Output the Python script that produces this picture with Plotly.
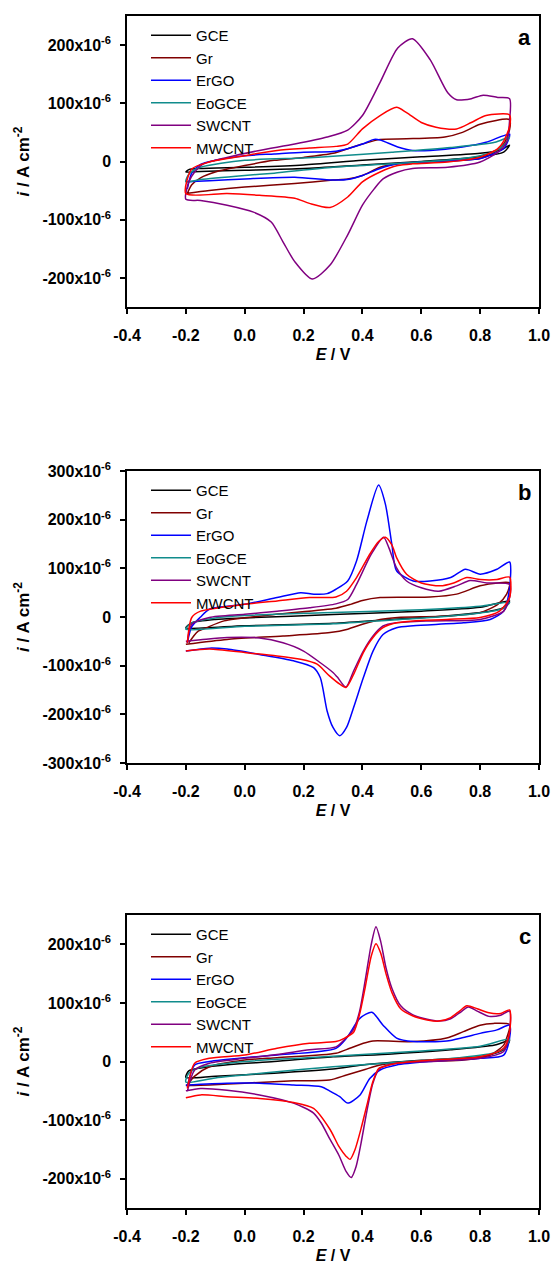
import plotly.graph_objects as go

# ---------------- data (E in V, i in µA cm^-2; each list is one full CV loop) -------------
series_names = ["GCE", "Gr", "ErGO", "EoGCE", "SWCNT", "MWCNT"]
series_colors = ["#000000", "#800000", "#0000FF", "#108C8C", "#800080", "#FF0000"]

# panel a
a_GCE = [(-0.2, -18), (-0.19, -14), (-0.15, -12), (0.0, -10), (0.2, -6), (0.4, 2), (0.6, 8), (0.8, 14),
         (0.87, 20), (0.9, 28), (0.88, 16), (0.8, 8), (0.6, 0), (0.4, -6), (0.2, -12), (0.0, -15),
         (-0.15, -17), (-0.2, -18)]
a_Gr = [(-0.195, -55), (-0.18, -40), (-0.15, -28), (-0.1, -18), (0.0, -7), (0.1, 2), (0.2, 7), (0.3, 14),
        (0.35, 22), (0.4, 30), (0.46, 38), (0.55, 39), (0.68, 42), (0.74, 50), (0.8, 64), (0.9, 72),
        (0.9, 55), (0.88, 30), (0.85, 16), (0.8, 5), (0.6, -1), (0.52, -4), (0.46, -10), (0.4, -24),
        (0.35, -30), (0.3, -32), (0.17, -38), (0.0, -44), (-0.12, -50), (-0.2, -55)]
a_ErGO = [(-0.195, -47), (-0.18, -20), (-0.15, -5), (-0.1, 2), (0.0, 10), (0.1, 13), (0.2, 16), (0.3, 17),
          (0.35, 22), (0.4, 30), (0.44, 38), (0.46, 37), (0.52, 25), (0.57, 19), (0.63, 19), (0.74, 25),
          (0.82, 33), (0.9, 47), (0.89, 30), (0.88, 22), (0.8, 5), (0.6, -1), (0.52, -4), (0.46, -12),
          (0.4, -24), (0.36, -30), (0.3, -32), (0.17, -27), (0.0, -30), (-0.12, -33), (-0.2, -35)]
a_EoGCE = [(-0.2, -35), (-0.19, -22), (-0.15, -10), (0.0, 2), (0.2, 6), (0.3, 9), (0.5, 16), (0.7, 24),
           (0.85, 33), (0.9, 42), (0.88, 28), (0.85, 18), (0.8, 10), (0.7, 3), (0.5, -4), (0.3, -10),
           (0.1, -20), (0.0, -24), (-0.15, -31), (-0.2, -35)]
a_SWCNT = [(-0.2, -65), (-0.19, -35), (-0.17, -18), (-0.14, -4), (-0.06, 7), (0.05, 19), (0.17, 30),
           (0.28, 42), (0.35, 54), (0.4, 79), (0.46, 136), (0.52, 195), (0.57, 211), (0.63, 175),
           (0.69, 118), (0.72, 106), (0.77, 108), (0.81, 114), (0.86, 110), (0.9, 108), (0.9, 70),
           (0.89, 33), (0.86, 16), (0.8, -1), (0.69, -10), (0.57, -12), (0.52, -18), (0.47, -30),
           (0.44, -47), (0.4, -75), (0.35, -126), (0.29, -178), (0.23, -202), (0.17, -172), (0.13, -138),
           (0.09, -104), (0.03, -87), (-0.06, -75), (-0.15, -67), (-0.2, -65)]
a_MWCNT = [(-0.2, -55), (-0.18, -13), (-0.12, -1), (0.0, 10), (0.11, 19), (0.22, 23), (0.31, 26),
           (0.35, 30), (0.4, 56), (0.46, 79), (0.516, 93), (0.55, 84), (0.6, 67), (0.65, 59), (0.72, 56),
           (0.77, 67), (0.82, 79), (0.9, 80), (0.9, 60), (0.88, 35), (0.86, 22), (0.8, 7.5), (0.69, -1),
           (0.57, -4), (0.52, -7), (0.46, -18), (0.4, -35), (0.35, -61), (0.29, -79), (0.22, -72),
           (0.17, -63), (0.05, -58), (-0.06, -55), (-0.2, -55)]

# panel b
b_GCE = [(-0.2, -22), (-0.18, -12), (-0.1, -5), (0.0, -2), (0.3, 5), (0.6, 12), (0.8, 20), (0.9, 33),
         (0.88, 20), (0.85, 14), (0.7, 3), (0.5, -5), (0.3, -13), (0.0, -18), (-0.2, -22)]
b_Gr = [(-0.19, -53), (-0.16, -30), (-0.13, -22), (-0.07, -8), (0.1, 5), (0.31, 18), (0.36, 26),
        (0.4, 34), (0.46, 40), (0.63, 41), (0.72, 47), (0.8, 64), (0.86, 70), (0.9, 70), (0.89, 47),
        (0.86, 26), (0.8, 9), (0.69, 2), (0.52, -1), (0.46, -5), (0.4, -15), (0.35, -25), (0.29, -32),
        (0.13, -39), (-0.06, -46), (-0.2, -56)]
b_ErGO = [(-0.195, -53), (-0.18, -20), (-0.15, 0), (-0.12, 16), (0.0, 26), (0.11, 40), (0.19, 50),
          (0.235, 47), (0.28, 48), (0.31, 57), (0.35, 74), (0.38, 115), (0.415, 197), (0.455, 271),
          (0.478, 232), (0.5, 149), (0.516, 95), (0.573, 74), (0.63, 74), (0.7, 81), (0.75, 98),
          (0.8, 88), (0.857, 98), (0.9, 113), (0.9, 60), (0.88, 12), (0.834, -5), (0.743, -12),
          (0.573, -18), (0.516, -22), (0.47, -36), (0.436, -70), (0.403, -125), (0.37, -186),
          (0.346, -227), (0.323, -244), (0.3, -227), (0.28, -193), (0.257, -125), (0.234, -104),
          (0.166, -90), (0.05, -77), (-0.06, -66), (-0.12, -64), (-0.2, -70)]
b_EoGCE = [(-0.2, -25), (-0.18, -12), (-0.1, -2), (0.0, 3), (0.3, 9), (0.6, 15), (0.8, 22), (0.9, 30),
           (0.88, 18), (0.85, 13), (0.7, 2), (0.5, -6), (0.3, -14), (0.0, -19), (-0.2, -25)]
b_SWCNT = [(-0.195, -53), (-0.18, -15), (-0.12, -1), (0.0, 5.5), (0.11, 12), (0.22, 19), (0.31, 27),
           (0.35, 36), (0.38, 67), (0.43, 129), (0.472, 164), (0.49, 142), (0.516, 101), (0.55, 74),
           (0.6, 60), (0.66, 53), (0.72, 64), (0.766, 75), (0.823, 70), (0.9, 67), (0.9, 40),
           (0.88, 12), (0.8, -5), (0.63, -8), (0.516, -12), (0.47, -18.5), (0.436, -39), (0.403, -70),
           (0.37, -111), (0.344, -144), (0.314, -123), (0.3, -114), (0.257, -94), (0.2, -70),
           (0.13, -53), (0.05, -43), (-0.06, -42), (-0.15, -47), (-0.2, -50)]
b_MWCNT = [(-0.195, -53), (-0.18, -1), (-0.15, 12), (0.0, 26), (0.11, 33), (0.22, 40), (0.31, 41),
           (0.346, 53), (0.38, 81), (0.426, 130), (0.455, 155), (0.478, 164), (0.5, 148), (0.516, 122),
           (0.55, 88), (0.6, 70), (0.664, 64), (0.71, 70), (0.755, 81), (0.8, 77), (0.857, 77),
           (0.9, 82), (0.9, 40), (0.866, 12), (0.8, -1), (0.686, -5), (0.573, -8), (0.516, -12),
           (0.47, -22), (0.436, -42), (0.403, -73), (0.37, -118), (0.344, -145), (0.323, -138),
           (0.288, -121), (0.246, -97), (0.19, -87), (0.11, -80), (0.0, -73), (-0.12, -66), (-0.2, -70)]

# panel c
c_GCE = [(-0.2, -27), (-0.19, -16), (-0.15, -11), (-0.05, -5), (0.1, 0), (0.3, 8), (0.5, 13), (0.7, 20),
         (0.85, 28), (0.9, 36), (0.88, 20), (0.85, 14), (0.8, 8), (0.6, 2), (0.4, -6), (0.3, -13),
         (0.1, -20), (-0.1, -25), (-0.2, -27)]
c_Gr = [(-0.195, -40), (-0.17, -25), (-0.12, -9), (0.0, 2.5), (0.11, 6.5), (0.31, 14), (0.357, 22.5),
        (0.403, 31), (0.436, 35), (0.573, 34), (0.686, 40), (0.743, 51), (0.8, 62), (0.845, 65),
        (0.9, 63), (0.89, 40), (0.88, 28), (0.834, 11), (0.743, 2.5), (0.573, 0), (0.46, -6),
        (0.403, -14.5), (0.346, -23), (0.288, -31.5), (0.166, -33), (0.0, -37), (-0.12, -40), (-0.2, -41)]
c_ErGO = [(-0.195, -43), (-0.17, -6), (-0.12, 0), (0.0, 6.5), (0.11, 11), (0.31, 22.5), (0.346, 40),
          (0.392, 74), (0.432, 84), (0.47, 62), (0.516, 40), (0.573, 34), (0.686, 35), (0.743, 41),
          (0.8, 48), (0.857, 54), (0.9, 62), (0.9, 40), (0.88, 11), (0.8, 5.4), (0.63, 0), (0.516, -6),
          (0.46, -14.5), (0.425, -29), (0.392, -57), (0.35, -71), (0.323, -60), (0.288, -50),
          (0.26, -43), (0.166, -40), (0.05, -37), (-0.06, -37), (-0.2, -40)]
c_EoGCE = [(-0.2, -35), (-0.19, -20), (-0.15, -10), (0.0, 0), (0.2, 6), (0.4, 12), (0.6, 18), (0.8, 26),
           (0.9, 38), (0.88, 22), (0.85, 15), (0.7, 5), (0.5, -2), (0.3, -9), (0.1, -18), (-0.1, -28),
           (-0.2, -35)]
c_SWCNT = [(-0.195, -51), (-0.17, -14.5), (-0.12, -3), (0.0, 5.4), (0.11, 12), (0.22, 20), (0.31, 25),
           (0.34, 38), (0.37, 55), (0.39, 85), (0.41, 140), (0.43, 200), (0.446, 230), (0.462, 205),
           (0.48, 160), (0.5, 125), (0.53, 95), (0.57, 80), (0.62, 72), (0.66, 69), (0.7, 73),
           (0.73, 83), (0.76, 93), (0.79, 86), (0.83, 77), (0.87, 79), (0.9, 86), (0.9, 50), (0.88, 17),
           (0.8, 5.4), (0.63, 0), (0.516, -3), (0.47, -9), (0.455, -14), (0.435, -38), (0.415, -85),
           (0.395, -140), (0.378, -180), (0.362, -198), (0.345, -188), (0.32, -160), (0.29, -133),
           (0.26, -105), (0.234, -88), (0.166, -71), (0.05, -57), (-0.06, -49), (-0.15, -46), (-0.2, -50)]
c_MWCNT = [(-0.195, -46), (-0.17, -3), (-0.12, 5.4), (0.0, 11), (0.11, 22.5), (0.22, 31), (0.31, 34),
           (0.34, 40), (0.37, 50), (0.39, 80), (0.41, 128), (0.43, 180), (0.446, 201), (0.462, 185),
           (0.48, 150), (0.5, 118), (0.53, 90), (0.57, 78), (0.62, 71), (0.66, 69), (0.7, 75),
           (0.73, 86), (0.755, 95), (0.79, 90), (0.83, 83), (0.87, 82), (0.9, 88), (0.9, 50),
           (0.88, 22.5), (0.8, 8), (0.63, 2.5), (0.516, -3), (0.47, -9), (0.455, -12), (0.435, -35),
           (0.415, -75), (0.395, -115), (0.375, -150), (0.358, -167), (0.345, -162), (0.32, -145),
           (0.29, -116), (0.234, -80), (0.166, -70), (0.05, -63), (-0.06, -60), (-0.15, -57), (-0.2, -62)]

x_tickvals = [-0.4, -0.2, 0.0, 0.2, 0.4, 0.6, 0.8, 1.0]
x_ticktext = ["-0.4", "-0.2", "0.0", "0.2", "0.4", "0.6", "0.8", "1.0"]
y_ticks_a = [-200, -100, 0, 100, 200]
y_ticks_b = [-300, -200, -100, 0, 100, 200, 300]
y_ticks_c = [-200, -100, 0, 100, 200]
y_range_a = [-250, 250]
y_range_b = [-300, 300]
y_range_c = [-250, 250]
panel_labels = ["a", "b", "c"]

panels = [
    ([a_GCE, a_Gr, a_ErGO, a_EoGCE, a_SWCNT, a_MWCNT], y_ticks_a, y_range_a),
    ([b_GCE, b_Gr, b_ErGO, b_EoGCE, b_SWCNT, b_MWCNT], y_ticks_b, y_range_b),
    ([c_GCE, c_Gr, c_ErGO, c_EoGCE, c_SWCNT, c_MWCNT], y_ticks_c, y_range_c),
]

# ---------------- layout geometry (fig 555 x 1265, no margins) ----------------
W, H = 555, 1265
x_dom = [127 / W, 539 / W]
y_doms = [[1 - 307 / H, 1 - 16 / H], [1 - 763 / H, 1 - 471 / H], [1 - 1208 / H, 1 - 915 / H]]
FONT = "Liberation Sans, Arial, sans-serif"


def ylab(v):
    if v == 0:
        return "0"
    return f"{v}x10<sup>-6</sup>"


fig = go.Figure()
layout = dict(
    width=W, height=H, margin=dict(l=0, r=0, t=0, b=0, autoexpand=False),
    paper_bgcolor="white", plot_bgcolor="white",
    font=dict(family=FONT, color="black"),
    showlegend=True,
)
annotations = []

for p, (curves, yt, yr) in enumerate(panels):
    k = "" if p == 0 else str(p + 1)
    leg = "legend" if p == 0 else f"legend{p + 1}"
    for name, col, pts in zip(series_names, series_colors, curves):
        fig.add_trace(go.Scatter(
            x=[e for e, _ in pts], y=[i * 1e-6 for _, i in pts],
            mode="lines", name=name,
            line=dict(color=col, width=1.5, shape="spline", smoothing=0.7),
            xaxis="x" + k, yaxis="y" + k, legend=leg,
        ))
    layout["xaxis" + k] = dict(
        domain=x_dom, anchor="y" + k, range=[-0.4, 1.0], automargin=False,
        tickvals=x_tickvals, ticktext=x_ticktext,
        showline=True, linecolor="black", linewidth=1.5, mirror=True,
        ticks="outside", ticklen=5, tickwidth=1.5, tickcolor="black",
        showgrid=False, zeroline=False,
        tickfont=dict(family=FONT, size=16, weight="bold"),
        ticklabelstandoff=8,
        title=dict(text="<i>E</i> / V", font=dict(family=FONT, size=16, weight="bold"), standoff=6),
    )
    layout["yaxis" + k] = dict(
        domain=y_doms[p], anchor="x" + k, range=[v * 1e-6 for v in yr], automargin=False,
        tickvals=[v * 1e-6 for v in yt], ticktext=[ylab(v) for v in yt],
        showline=True, linecolor="black", linewidth=1.5, mirror=True,
        ticks="outside", ticklen=5, tickwidth=1.5, tickcolor="black",
        showgrid=False, zeroline=False,
        tickfont=dict(family=FONT, size=16, weight="bold"),
        ticklabelstandoff=6,
        title=dict(text="<i>i</i> / A cm<sup>-2</sup>", font=dict(family=FONT, size=17, weight="bold"),
                   standoff=8),
    )
    layout[leg] = dict(
        x=146 / W, xanchor="left", y=y_doms[p][1] - 3 / H, yanchor="top",
        bgcolor="rgba(0,0,0,0)", borderwidth=0,
        font=dict(family=FONT, size=15, color="black"),
        tracegroupgap=0, itemwidth=40,
    )
    annotations.append(dict(
        text="<b>" + panel_labels[p] + "</b>", xref="x" + k + " domain", yref="y" + k + " domain",
        x=0.985, y=0.975, xanchor="right", yanchor="top", showarrow=False,
        font=dict(family=FONT, size=22, color="black"),
    ))

layout["annotations"] = annotations
fig.update_layout(**layout)
# remove the browser's default 8px body margin so the 555x1265 figure fills the window exactly
fig.write_html("out.html", config={"displayModeBar": False},
               post_script="document.body.style.margin='0';document.body.style.overflow='hidden';")
